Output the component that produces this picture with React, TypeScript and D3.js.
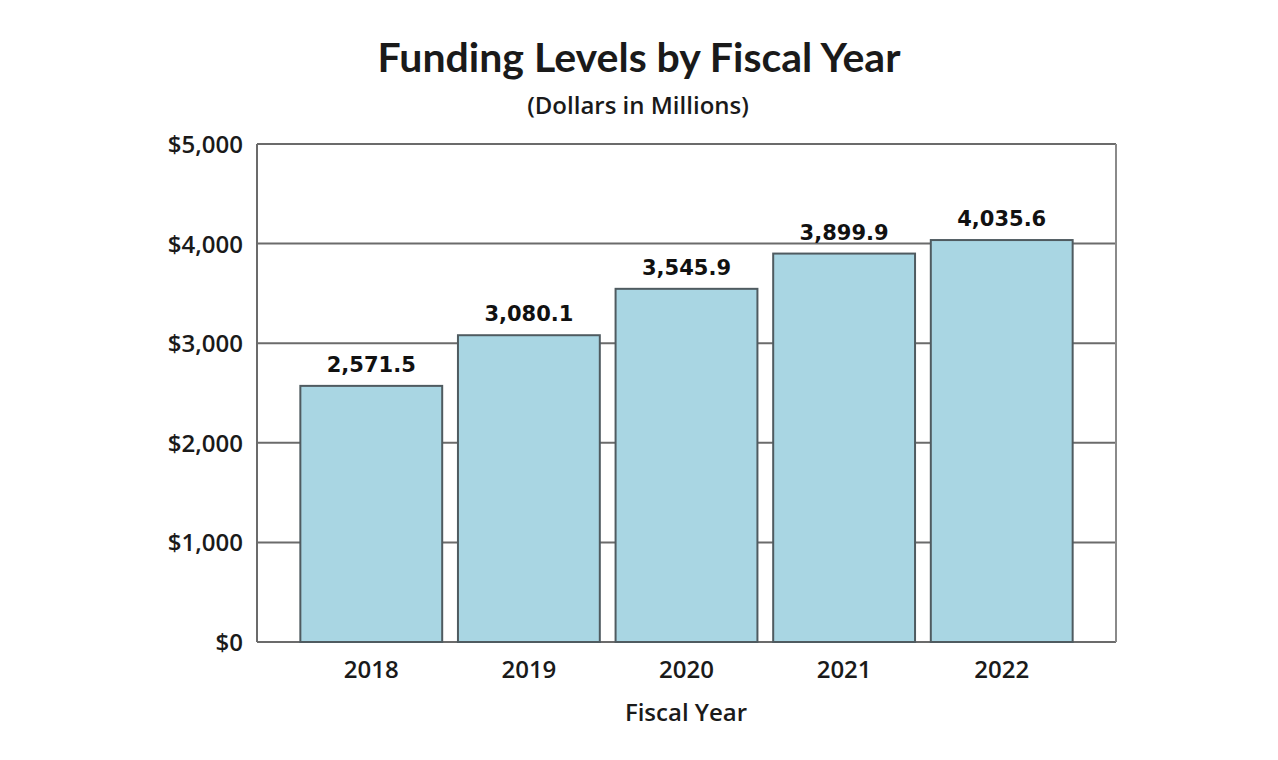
import React from "react";
import * as d3 from "d3";

const years = ["2018", "2019", "2020", "2021", "2022"];
const funding = [2571.5, 3080.1, 3545.9, 3899.9, 4035.6];
const yTicks = [0, 1000, 2000, 3000, 4000, 5000];

const W = 1278, H = 760;
const left = 257, right = 1116, top = 144, bottom = 642;

export default function App() {
  const x = d3.scaleBand<string>().domain(years).range([left, right]).paddingInner(0.1).paddingOuter(0.275);
  const y = d3.scaleLinear().domain([0, 5000]).range([bottom, top]);
  const fmtTick = (v: number) => "$" + d3.format(",")(v);
  const fmtVal = d3.format(",.1f");
  const font = "'Open Sans', Lato, sans-serif";
  return (
    <svg width={W} height={H} style={{ position: "absolute", left: 0, top: 0 }}>
      <rect x={0} y={0} width={W} height={H} fill="#fff" />
      <text x={639} y={72} textAnchor="middle" fontFamily="Lato, sans-serif" fontWeight={700} fontSize={41} fill="#1a1a1a">Funding Levels by Fiscal Year</text>
      <text x={638} y={114} textAnchor="middle" fontFamily={font} fontWeight={600} fontSize={24} fill="#1a1a1a">(Dollars in Millions)</text>
      {yTicks.map((t) => (
        <g key={t}>
          <line x1={left} x2={right} y1={y(t)} y2={y(t)} stroke="#6b6b6b" strokeWidth={2} />
          <text x={243} y={y(t) + 9} textAnchor="end" fontFamily={font} fontWeight={600} fontSize={24} fill="#1a1a1a">{fmtTick(t)}</text>
        </g>
      ))}
      <line x1={left} x2={left} y1={top} y2={bottom} stroke="#6b6b6b" strokeWidth={2} />
      <line x1={right} x2={right} y1={top} y2={bottom} stroke="#8a8a8a" strokeWidth={2} />
      {years.map((yr, i) => (
        <g key={yr}>
          <rect x={x(yr)!} y={y(funding[i])} width={x.bandwidth()} height={bottom - y(funding[i])} fill="#a9d6e3" stroke="#4f5b60" strokeWidth={2} />
          <text x={x(yr)! + x.bandwidth() / 2} y={y(funding[i]) - 14} textAnchor="middle" fontFamily="'DejaVu Sans', sans-serif" fontWeight={700} fontSize={21} fill="#111">{fmtVal(funding[i])}</text>
          <text x={x(yr)! + x.bandwidth() / 2} y={678} textAnchor="middle" fontFamily={font} fontWeight={600} fontSize={24} fill="#1a1a1a">{yr}</text>
        </g>
      ))}
      <text x={686} y={721} textAnchor="middle" fontFamily={font} fontWeight={600} fontSize={24} fill="#1a1a1a">Fiscal Year</text>
    </svg>
  );
}
